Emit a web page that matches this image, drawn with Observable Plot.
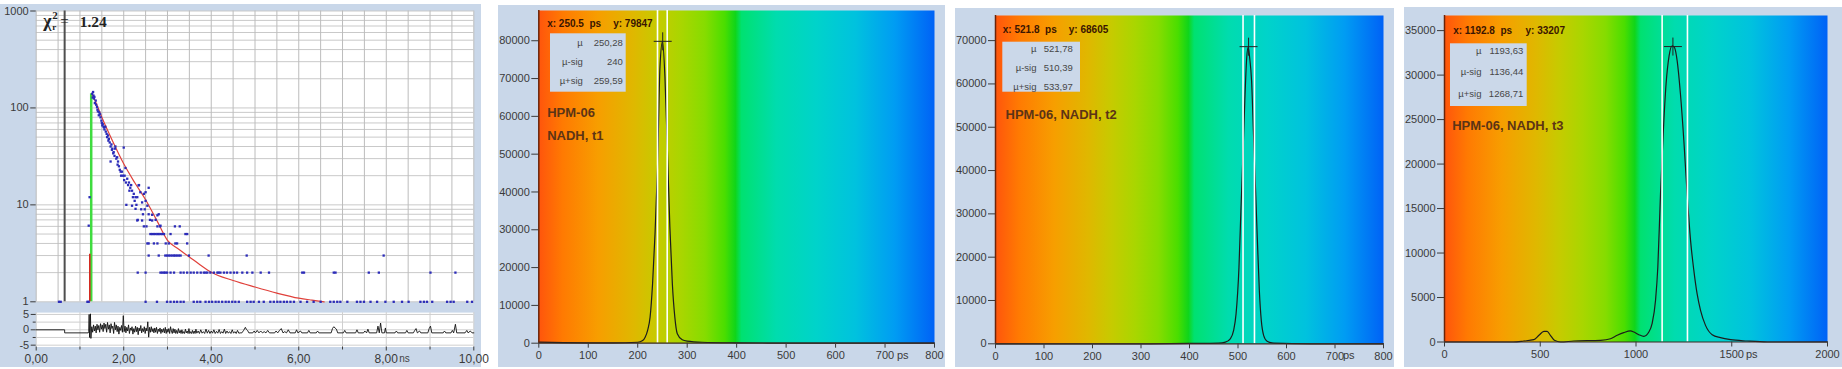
<!DOCTYPE html>
<html><head><meta charset="utf-8">
<script src="https://cdn.jsdelivr.net/npm/d3@7"></script>
<script src="https://cdn.jsdelivr.net/npm/@observablehq/plot@0.6"></script>
<style>
html,body{margin:0;padding:0;background:#fff}
#root{position:relative;width:1842px;height:369px;overflow:hidden;font-family:"Liberation Sans",Arial,sans-serif}
.bg{position:absolute;background:#c9d7e9}
.p{position:absolute}
</style></head>
<body><div id="root"></div>
<script>
// ================= DATA =================
// Panel 1: fluorescence decay (ns, counts), log scale
const decayPoints = [
 [0.52,1],[0.56,1],[1.17,1],[1.20,1],[1.20,6.1],[1.22,12],
 [1.28,140],[1.29,128],[1.30,146],[1.31,134],[1.32,125],[1.33,130],[1.34,112],[1.36,119],[1.37,108],[1.39,102],
 [1.40,96],[1.41,92],[1.43,84],[1.44,90],[1.46,86],[1.47,80],[1.49,74],[1.50,70],[1.51,66],[1.52,68],[1.54,64],
 [1.55,63],[1.56,60],[1.58,64],[1.59,57],[1.61,54],[1.62,50],[1.64,52],[1.65,46],[1.66,48],[1.68,44],[1.70,40],
 [1.70,28],[1.72,42],[1.73,37],[1.74,38],[1.76,34],[1.77,35],[1.79,32],[1.80,38],[1.81,40],[1.83,30],[1.85,31],
 [1.86,26],[1.87,28],[1.89,25],[1.91,23],[1.93,22],[1.94,20],[1.96,22],[1.98,20],[2.00,39],[2.01,18],[2.02,20],
 [2.04,24],[2.05,17],[2.06,10],[2.08,18.6],[2.10,16],[2.12,17],[2.13,14],[2.15,15],[2.17,16],[2.19,14],[2.19,9.8],
 [2.21,12],[2.23,13],[2.25,11],[2.27,12],[2.27,9.1],[2.29,10],[2.31,12],[2.31,6.9],[2.32,7],[2.34,15.9],[2.35,16],
 [2.38,13.5],[2.40,9],[2.42,10.6],[2.42,6.9],[2.44,8],[2.46,13],[2.46,6],[2.48,9],[2.50,11],[2.50,13.5],[2.52,6],
 [2.54,9.8],[2.57,15],[2.57,8],[2.60,7],[2.65,7.9],[2.65,6.9],[2.73,7],[2.77,7.8],[2.77,6],[2.80,8],[2.83,6],
 [2.84,6.1],[3.17,6],[3.28,6],
 [2.61,5],[2.65,5],[2.69,5],[2.73,5],[2.77,5],[2.80,5],[2.84,5],[2.88,5],[2.92,5],[3.07,5],[3.41,5],[3.45,5],
 [2.54,4],[2.57,4],[2.69,4],[2.77,4],[2.96,4],[3.03,4],[3.18,4],[3.22,4],[3.45,4],
 [2.57,3],[2.80,3],[2.95,3],[2.99,3],[3.03,3],[3.07,3],[3.11,3],[3.15,3],[3.18,3],[3.22,3],[3.26,3],[3.30,3],
 [3.49,3],[3.94,3],[4.81,3],[7.94,3],
 [2.32,2],[2.50,2],[2.84,2],[2.88,2],[2.92,2],[2.95,2],[2.99,2],[3.07,2],[3.15,2],[3.30,2],[3.37,2],[3.45,2],
 [3.53,2],[3.60,2],[3.68,2],[3.76,2],[3.83,2],[3.87,2],[3.91,2],[3.98,2],[4.06,2],[4.14,2],[4.17,2],[4.21,2],
 [4.29,2],[4.36,2],[4.44,2],[4.52,2],[4.59,2],[4.71,2],[4.82,2],[4.94,2],[5.13,2],[5.32,2],[6.08,2],[6.12,2],
 [6.80,2],[6.84,2],[7.60,2],[7.83,2],[9.01,2],[9.58,2],
 [2.50,1],[2.76,1],[2.99,1],[3.07,1],[3.15,1],[3.22,1],[3.30,1],[3.37,1],[3.60,1],[3.68,1],[3.75,1],[3.87,1],
 [3.95,1],[4.02,1],[4.10,1],[4.17,1],[4.25,1],[4.33,1],[4.40,1],[4.48,1],[4.55,1],[4.63,1],[4.82,1],[4.90,1],
 [4.97,1],[5.09,1],[5.20,1],[5.35,1],[5.43,1],[5.51,1],[5.58,1],[5.66,1],[5.73,1],[5.81,1],[5.89,1],[6.04,1],
 [6.19,1],[6.34,1],[6.50,1],[6.72,1],[6.80,1],[6.88,1],[6.95,1],[7.11,1],[7.33,1],[7.41,1],[7.49,1],[7.64,1],
 [7.79,1],[7.98,1],[8.17,1],[8.36,1],[8.51,1],[8.78,1],[8.86,1],[8.93,1],[9.05,1],[9.39,1],[9.47,1],[9.54,1],
 [9.85,1],[9.96,1]
];
const fitCurve = [[1.27,140],[1.35,118],[1.5,80],[1.75,45],[2.0,26.5],[2.25,17],[2.5,11.3],[2.75,7],[3.0,4.3],
 [3.25,3.5],[3.5,2.9],[3.75,2.4],[4.0,2.02],[4.5,1.66],[5.0,1.42],[5.5,1.23],[6.0,1.09],[6.3,1.04],[6.58,1.0]];
const markerTime = 0.65;          // dark cursor line (ns)
const irfTime = 1.257, irfTop = 140;   // green line
const irfRedTime = 1.225, irfRedTop = 3.1; // red line
const chiLabel = "1.24";
const decayTicks = [1, 10, 100, 1000];
const residTicks = [-5, 0, 5];
const timeTicks = [0, 2, 4, 6, 8, 10];
const residuals = [[0,0],[0.65,0],[0.65,-1],[1.19,-1],[1.20,-0.5],[1.21,5],[1.22,-2.5],[1.24,5.2],[1.25,-2.8],
 [1.27,1],[1.29,-0.8],[1.31,1.6],[1.33,-0.4],[1.35,1.2],[1.37,-1],[1.39,1.8],[1.41,0],[1.43,1.4],[1.45,-0.8],
 [1.47,2],[1.49,0.2],[1.51,1.6],[1.53,-0.6],[1.55,2.2],[1.57,0.4],[1.59,1.8],[1.61,-0.8],[1.63,2.4],[1.65,0.2],
 [1.67,1.6],[1.69,-1],[1.71,2],[1.73,0.4],[1.75,1.2],[1.77,-1.2],[1.79,2.4],[1.81,0],[1.83,1.6],[1.85,-0.6],
 [1.87,1.2],[1.89,-1.4],[1.91,0.8],[1.93,-0.2],[1.95,1.4],[1.97,-0.8],[1.99,4.6],[2.01,-0.6],[2.03,1.2],[2.05,-1],
 [2.07,0.8],[2.09,-0.4],[2.11,1.6],[2.13,-1.2],[2.15,0.6],[2.17,-0.2],[2.19,1],[2.21,-1.4],[2.23,0.4],[2.25,-0.8],
 [2.27,1.2],[2.29,-0.6],[2.31,0.8],[2.33,-1.6],[2.35,0.6],[2.37,-0.4],[2.39,1.4],[2.41,-1],[2.43,0.4],[2.45,-0.6],
 [2.47,1],[2.49,-1.2],[2.51,0.6],[2.53,-0.4],[2.55,2.6],[2.57,-2.4],[2.59,0.8],[2.61,-0.8],[2.63,1],[2.65,-0.6],
 [2.67,0.4],[2.69,-1],[2.71,0.6],[2.73,-0.8],[2.75,0.8],[2.77,-1.2],[2.79,0.2],[2.81,-0.6],[2.83,0.6],[2.85,-1.2],
 [2.87,0.2],[2.89,-0.8],[2.91,0.4],[2.93,-1],[2.95,0.8],[2.97,-1.2],[2.99,0.2],[3.01,-0.8],[3.03,0.4],[3.05,-1.2],
 [3.07,1],[3.09,-0.4],[3.11,-1.2],[3.13,0.4],[3.15,-1],[3.17,0.2],[3.19,-1.2],[3.21,-0.2],[3.23,-1.2],[3.25,0.4],
 [3.27,-1],[3.29,-0.2],[3.31,-1.2],[3.33,0],[3.35,-1.2],[3.37,-0.6],[3.39,-1.2],[3.41,0.2],[3.43,-1],[3.45,-0.4],
 [3.47,-1.2],[3.49,0.4],[3.51,-1.2],[3.53,-0.6],[3.55,-1.2],[3.57,-0.2],[3.59,-1.2],[3.61,-0.4],[3.63,-1.2],
 [3.65,0.2],[3.67,-1.1],[3.70,-0.4],[3.73,-1.2],[3.76,0],[3.79,-1.1],[3.82,-0.6],[3.85,-1.2],[3.88,0.2],[3.91,-1.1],
 [3.94,-0.2],[3.97,-1.2],[4.00,-0.4],[4.03,-1.1],[4.06,0],[4.09,-1.2],[4.12,-0.5],[4.15,-1.1],[4.18,0.1],[4.21,-1.2],
 [4.24,-0.6],[4.27,-1.1],[4.30,0.2],[4.33,-1.2],[4.36,-0.4],[4.39,-1.1],[4.42,-0.6],[4.45,-1.2],[4.48,0],[4.51,-1.1],
 [4.54,-0.6],[4.57,-1.2],[4.60,-0.2],[4.63,-1.1],[4.66,-1],[4.70,-1],[4.74,-0.2],[4.78,0.8],[4.80,0.2],[4.83,-0.2],
 [4.86,-1],[4.95,-1],[4.98,-0.4],[5.01,-1],[5.05,-0.2],[5.09,-1],[5.13,-0.4],[5.17,-1],[5.21,-0.6],[5.25,-1],
 [5.29,-0.2],[5.33,-1],[5.45,-1],[5.48,-0.4],[5.52,-1],[5.56,-0.2],[5.60,0.4],[5.64,-1],[5.68,-0.6],[5.72,-1],
 [5.76,0],[5.80,-1],[5.92,-1],[5.95,0],[5.98,-1],[6.04,-0.4],[6.07,-1],[6.20,-1],[6.23,-0.2],[6.26,-1],[6.40,-1],
 [6.43,-0.4],[6.46,-1],[6.74,-1],[6.77,0.4],[6.80,1],[6.83,0.6],[6.86,0.2],[6.89,-1],[7.02,-1],[7.05,-0.2],[7.08,-1],
 [7.30,-1],[7.33,0],[7.36,-1],[7.48,-1],[7.51,-0.4],[7.55,-1],[7.58,0.2],[7.61,-1],[7.78,-1],[7.81,1.2],[7.84,-1],
 [7.87,2.2],[7.90,-1],[7.96,-1],[7.98,0.6],[8.00,-1],[8.20,-1],[8.23,-0.4],[8.26,-1],[8.44,-1],[8.47,-0.2],[8.50,-1],
 [8.62,-1],[8.65,-0.2],[8.68,0.4],[8.71,-1],[8.76,-0.4],[8.79,-1],[8.95,-1],[8.98,0.4],[9.01,1.2],[9.04,-1],[9.30,-1],
 [9.33,-0.4],[9.36,-1],[9.48,-1],[9.51,-0.2],[9.54,-1],[9.58,1.8],[9.61,-1],[9.80,-1],[9.84,-0.2],[9.87,-1],
 [9.92,-0.4],[9.96,-1],[10.0,-1]];

// Panels 2-4: peak histograms (ps, counts)
const t1Time   = [0,50,100,150,200,210,215,220,225,230,235,240,245,250,255,260,265,270,275,280,290,300,330,400,500,800];
const t1Counts = [300,150,100,100,250,700,1600,3400,6900,15700,29000,46600,73100,79800,70500,51000,30700,15700,6900,2500,900,530,250,100,30,0];
const t2Time   = [0,100,200,300,400,460,474,484,491,496,502,506,510,514,518,521,524,528,532,536,540,544,548,553,560,574,650,800];
const t2Counts = [0,0,0,0,80,150,380,1150,3100,6900,17700,30800,43000,56000,66100,68500,66100,60700,48400,36100,23800,12300,5400,1900,600,150,0,0];
const t3Time   = [0,200,360,414,466,493,519,536,553,574,606,675,815,867,902,936,971,989,1015,1041,1067,1084,1102,1114,1128,1142,1157,1173,1189,1201,1215,1232,1250,1267,1285,1302,1319,1337,1363,1398,1441,1494,1580,1685,2000];
const t3Counts = [0,0,0,110,260,750,1200,1200,750,190,0,110,190,370,750,1050,1240,1120,820,640,1120,2060,4680,8420,16660,23400,29000,32200,33300,33100,31600,27900,22600,16660,11400,8050,5430,3560,1870,820,490,260,110,0,0];

const peakNames  = [["HPM-06","NADH, t1"],["HPM-06, NADH, t2"],["HPM-06, NADH, t3"]];
const cursorX    = [250.5, 521.8, 1192.8];
const cursorY    = [79847, 68605, 33207];
const muValues   = [250.28, 521.78, 1193.63];
const muMinusSig = [240, 510.39, 1136.44];
const muPlusSig  = [259.59, 533.97, 1268.71];
const xMaxes     = [800, 800, 2000];
const xTickLists = [[0,100,200,300,400,500,600,700,800],[0,100,200,300,400,500,600,700,800],[0,500,1000,1500,2000]];
const yTickLists = [[0,10000,20000,30000,40000,50000,60000,70000,80000],
                    [0,10000,20000,30000,40000,50000,60000,70000],
                    [0,5000,10000,15000,20000,25000,30000,35000]];
const yMaxes     = [88000, 75800, 36700];

// ================= STYLE / LAYOUT =================
const svgNS = "http://www.w3.org/2000/svg";
const FONT = "'Liberation Sans', Arial, sans-serif";
const comma = v => String(v).replace(".", ",");
const gradientStops = [[0,"#ff550c"],[0.06,"#ff7a02"],[0.15,"#f79e00"],[0.24,"#dfb800"],[0.30,"#c6cb00"],
  [0.36,"#a9d600"],[0.42,"#86dc00"],[0.47,"#4ade00"],[0.497,"#10d51a"],[0.512,"#00e170"],[0.60,"#00dcae"],
  [0.70,"#00d3ca"],[0.80,"#00c2de"],[0.90,"#009cf3"],[1,"#0062f6"]];
const root = document.getElementById("root");
function place(el, left, top) { const d = document.createElement("div"); d.className = "p"; d.style.left = left+"px"; d.style.top = top+"px"; d.appendChild(el); root.appendChild(d); }
function bg(l, t, r, b) { const d = document.createElement("div"); d.className = "bg"; Object.assign(d.style, {left:l+"px", top:t+"px", width:(r-l)+"px", height:(b-t)+"px"}); root.appendChild(d); }
const baseStyle = {background: "transparent", fontFamily: FONT, fontSize: "11px", color: "#3a3a3a", overflow: "visible"};

bg(0, 4, 481, 367); bg(498, 5, 945, 367); bg(955, 8, 1394, 367); bg(1404, 7, 1842, 367);

const crossSymbol = { draw(ctx, size) { const r = Math.sqrt(size / Math.PI); ctx.moveTo(-r, 0); ctx.lineTo(r, 0); ctx.moveTo(0, -r); ctx.lineTo(0, r); } };

function gradientDefs(id) {
  return () => {
    const defs = document.createElementNS(svgNS, "defs");
    const lg = document.createElementNS(svgNS, "linearGradient");
    lg.setAttribute("id", id); lg.setAttribute("x1", "0"); lg.setAttribute("x2", "1"); lg.setAttribute("y1", "0"); lg.setAttribute("y2", "0");
    for (const [o, c] of gradientStops) { const s = document.createElementNS(svgNS, "stop"); s.setAttribute("offset", o); s.setAttribute("stop-color", c); lg.appendChild(s); }
    defs.appendChild(lg); return defs;
  };
}
function boxMark(x0, y0, w, h) {
  return (index, scales, values, dims) => {
    const r = document.createElementNS(svgNS, "rect");
    r.setAttribute("x", dims.marginLeft + x0); r.setAttribute("y", dims.marginTop + y0);
    r.setAttribute("width", w); r.setAttribute("height", h); r.setAttribute("fill", "#cbd8e9");
    return r;
  };
}
const ftext = (s, o) => Plot.text([s], {frameAnchor: "top-left", textAnchor: "start", lineAnchor: "middle", fontFamily: FONT, ...o});

// ================= PANEL 1 =================
const logGrid = d3.scaleLog().domain([1, 1000]).ticks();
const topDecade = decayTicks[decayTicks.length - 1];
const lowerDecades = decayTicks.slice(0, -1);
const main = Plot.plot({
  width: 481, height: 302, marginLeft: 35.7, marginRight: 7.7, marginTop: 6.5, marginBottom: 4.7,
  style: baseStyle,
  x: {domain: [0, 10], axis: null},
  y: {type: "log", domain: [1, topDecade], axis: null},
  marks: [
    Plot.frame({fill: "white"}),
    Plot.gridY({ticks: logGrid, stroke: "#c9c9c9", strokeOpacity: 1}),
    Plot.gridX({ticks: d3.range(0, 10.01, 0.5), stroke: "#bcbcbc", strokeOpacity: 1}),
    // left log axis: tick marks through the y scale; lower decade labels through the y scale
    Plot.ruleY(decayTicks, {y: d => d, x1: -0.125, x2: 0, stroke: "#3a3a3a"}),
    Plot.text(lowerDecades, {y: d => d, text: d => String(d), frameAnchor: "left", dx: -7.5, textAnchor: "end", lineAnchor: "middle", fontSize: 11, fill: "#3a3a3a"}),
    // the top decade sits exactly on the frame's top edge
    Plot.text([String(topDecade)], {frameAnchor: "top-left", dx: -7.5, dy: 0, textAnchor: "end", lineAnchor: "middle", fontSize: 11, fill: "#3a3a3a"}),
    Plot.ruleX([markerTime], {stroke: "#4f4f4f", strokeWidth: 2}),
    Plot.ruleX([irfTime], {y1: 1, y2: irfTop, stroke: "#3fdc3f", strokeWidth: 2.5}),
    Plot.ruleX([irfRedTime], {y1: 1, y2: irfRedTop, stroke: "#d42a20", strokeWidth: 1.6}),
    Plot.line(fitCurve, {x: d => d[0], y: d => d[1], stroke: "#e0403a", strokeWidth: 1.2, curve: "monotone-x"}),
    Plot.dot(decayPoints, {x: d => d[0], y: d => d[1], r: 1.3, symbol: "square", fill: "#2b2bb8"}),
    ftext("χ", {dx: 7, dy: 10.5, fontSize: 18, fontFamily: "'Liberation Serif', serif", fontWeight: "bold", fill: "#222"}),
    ftext("2", {dx: 16, dy: 4.5, fontSize: 11, fontFamily: "'Liberation Serif', serif", fontWeight: "bold", fill: "#222"}),
    ftext("r", {dx: 16, dy: 16, fontSize: 9, fontFamily: "'Liberation Serif', serif", fontWeight: "bold", fill: "#222"}),
    ftext("=", {dx: 24, dy: 10.5, fontSize: 15, fontFamily: "'Liberation Serif', serif", fill: "#222"}),
    ftext(chiLabel, {dx: 43.5, dy: 11, fontSize: 15.5, fontFamily: "'Liberation Serif', serif", fontWeight: "bold", fill: "#222"})
  ]
});
place(main, 0, 4);

const resid = Plot.plot({
  width: 481, height: 61, marginLeft: 35.7, marginRight: 7.7, marginTop: 6.1, marginBottom: 20.5,
  style: baseStyle,
  x: {domain: [0, 10]},
  y: {domain: [-5.6, 5.6]},
  marks: [
    Plot.frame({fill: "white"}),
    Plot.gridY({ticks: [-5, -2.5, 0, 2.5, 5], stroke: "#cfcfcf", strokeOpacity: 1}),
    Plot.gridX({ticks: d3.range(0, 11), stroke: "#cfcfcf", strokeOpacity: 1}),
    Plot.axisX({ticks: timeTicks, tickFormat: d => d3.format(".2f")(d).replace(".", ","), tickSize: 4, tickPadding: 3, label: null, fontSize: 12}),
    Plot.axisX({ticks: [1, 3, 5, 7, 9], tickFormat: () => "", tickSize: 3, label: null}),
    Plot.axisY({ticks: residTicks, tickFormat: d => String(d), tickSize: 5, tickPadding: 2, label: null, fontSize: 11}),
    Plot.axisY({ticks: [-2.5, 2.5], tickFormat: () => "", tickSize: 3, label: null}),
    Plot.line(residuals, {x: d => d[0], y: d => d[1], stroke: "#111", strokeWidth: 0.9}),
    Plot.text(["ns"], {frameAnchor: "bottom-right", dx: -64, dy: 12, lineAnchor: "middle", fontSize: 10, fill: "#444"})
  ]
});
place(resid, 0, 306);

// ================= PANELS 2-4 =================
const layouts = [
  {left: 498, top: 5, width: 447, height: 362, ml: 40.3, mr: 11, mt: 5, mb: 24.3, psDx: -26,
   cur: [8.4, 13.3, 74.4], box: [11.7, 23.3, 75.7, 58.4], rows: [32.7, 51.7, 70.7], labR: 44, valR: 84, title: [8.4, [102.7, 125.7]]},
  {left: 955, top: 8, width: 439, height: 359, ml: 40, mr: 11, mt: 7, mb: 23.7, psDx: -29,
   cur: [7.3, 14, 73.3], box: [7.3, 26.7, 77.7, 50], rows: [33.3, 52.3, 71], labR: 41, valR: 77.3, title: [10, [99]]},
  {left: 1404, top: 7, width: 438, height: 360, ml: 40, mr: 15, mt: 8, mb: 25.5, psDx: -70,
   cur: [8.7, 15.7, 81], box: [6, 28.3, 76.7, 62.7], rows: [35.7, 56.7, 78.3], labR: 37, valR: 78.7, title: [7.7, [110]]}
];
const peakData = [
  t1Time.map((t, i) => ({t, c: t1Counts[i]})),
  t2Time.map((t, i) => ({t, c: t2Counts[i]})),
  t3Time.map((t, i) => ({t, c: t3Counts[i]}))
];
const boxText = {fontSize: 9.5, fill: "#474747", textAnchor: "end"};
layouts.forEach((L, k) => {
  const id = "grad" + k;
  const titleMarks = L.title[1].map((dy, j) => ftext(peakNames[k][j], {dx: L.title[0], dy, fontSize: 13, fontWeight: "bold", fill: "#5c3416"}));
  const rowLabels = ["µ", "µ-sig", "µ+sig"];
  const rowValues = [muValues[k], muMinusSig[k], muPlusSig[k]].map(comma);
  const p = Plot.plot({
    width: L.width, height: L.height, marginLeft: L.ml, marginRight: L.mr, marginTop: L.mt, marginBottom: L.mb,
    style: baseStyle,
    x: {domain: [0, xMaxes[k]]},
    y: {domain: [0, yMaxes[k]]},
    marks: [
      gradientDefs(id),
      Plot.frame({fill: `url(#${id})`}),
      Plot.line(peakData[k], {x: "t", y: "c", curve: "monotone-x", stroke: "#1c1c1c", strokeWidth: 1.2}),
      Plot.ruleX([muMinusSig[k], muPlusSig[k]], {stroke: "white", strokeWidth: 1.6}),
      Plot.dot([{x: cursorX[k], y: cursorY[k]}], {x: "x", y: "y", symbol: crossSymbol, r: 9, stroke: "#222", strokeWidth: 1, fill: "none"}),
      Plot.ruleX([0], {stroke: "#6b2409", strokeWidth: 1.5}),
      Plot.ruleY([0], {stroke: "#3b2b22", strokeWidth: 1.2}),
      Plot.axisX({ticks: xTickLists[k], tickFormat: d => String(d), tickSize: 5, tickPadding: 3, label: null, fontSize: 11}),
      Plot.axisY({ticks: yTickLists[k], tickFormat: d => String(d), tickSize: 7, tickPadding: 2, label: null, fontSize: 11}),
      Plot.text(["ps"], {frameAnchor: "bottom-right", dx: L.psDx, dy: 12, lineAnchor: "middle", fontSize: 11, fill: "#3a3a3a"}),
      ftext(`x: ${cursorX[k]}  ps`, {dx: L.cur[0], dy: L.cur[1], fontSize: 10, fontWeight: "bold", fill: "#3a1502"}),
      ftext(`y: ${cursorY[k]}`, {dx: L.cur[2], dy: L.cur[1], fontSize: 10, fontWeight: "bold", fill: "#3a1502"}),
      boxMark(...L.box),
      ...rowLabels.map((s, j) => ftext(s, {dx: L.labR, dy: L.rows[j], ...boxText})),
      ...rowValues.map((s, j) => ftext(s, {dx: L.valR, dy: L.rows[j], ...boxText})),
      ...titleMarks
    ]
  });
  place(p, L.left, L.top);
});
</script>
</body></html>
